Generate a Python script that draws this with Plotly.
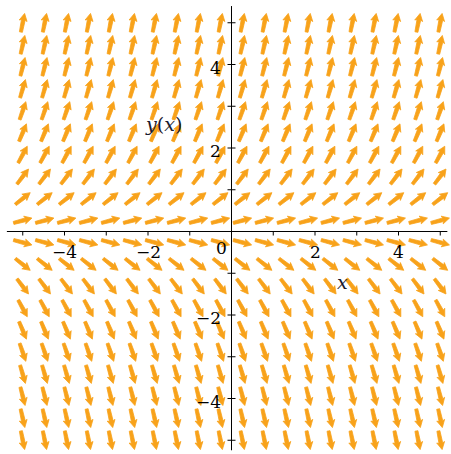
import numpy as np
import plotly.graph_objects as go

# Direction field for dy/dx = y(x) on a 20 x 20 grid
x_grid = np.linspace(-5, 5, 20)
y_grid = np.linspace(-5, 5, 20)


def slope(x, y):
    return y


x_ticks = [-5, -4, -3, -2, -1, 1, 2, 3, 4, 5]
x_labels = {-4: "\u22124", -2: "\u22122", 2: "2", 4: "4"}
y_ticks = [-5, -4, -3, -2, -1, 1, 2, 3, 4, 5]
y_labels = {-4: "\u22124", -2: "\u22122", 2: "2", 4: "4"}

W, H = 451, 454
PX = 41.75          # pixels per unit
OX, OY = 231.5, 231.5  # pixel position of the origin

x_range = [(0 - OX) / PX, (W - OX) / PX]
y_range = [-(H - OY) / PX, OY / PX]

ARROW = "#F8A21A"

# arrow outline in pixel units (along, across), pointing along +x, centered
L = 19.0
shaft_w = 1.9
head_len = 6.5
head_w = 4.0
outline = [
    (-L / 2, -shaft_w * 0.8),
    (L / 2 - head_len, -shaft_w),
    (L / 2 - head_len - 1.0, -head_w),
    (L / 2, 0.0),
    (L / 2 - head_len - 1.0, head_w),
    (L / 2 - head_len, shaft_w),
    (-L / 2, shaft_w * 0.8),
    (-L / 2, -shaft_w * 0.8),
]

ax, ay = [], []
for yv in y_grid:
    for xv in x_grid:
        m = slope(xv, yv)
        dx, dy = 1.0, m
        n = np.hypot(dx, dy)
        ux, uy = dx / n, dy / n          # direction in pixel space (equal scales)
        vx, vy = -uy, ux
        for a, b in outline:
            px = a * ux + b * vx
            py = a * uy + b * vy
            ax.append(xv + px / PX)
            ay.append(yv + py / PX)
        ax.append(None)
        ay.append(None)

fig = go.Figure()
fig.add_trace(go.Scatter(
    x=ax, y=ay, mode="lines", fill="toself",
    fillcolor=ARROW, line=dict(color=ARROW, width=0.8),
    hoverinfo="skip", showlegend=False,
))

# axes through the origin
axis_x = [-5.38, 5.17]
axis_y = [-5.24, 5.40]
tx, ty = [axis_x[0], axis_x[1], None, 0, 0, None], [0, 0, None, axis_y[0], axis_y[1], None]
for t in x_ticks:
    tx += [t, t, None]
    ty += [0, -4 / PX, None]
for t in y_ticks:
    tx += [-4 / PX, 4 / PX, None]
    ty += [t, t, None]
fig.add_trace(go.Scatter(
    x=tx, y=ty, mode="lines", line=dict(color="black", width=1),
    hoverinfo="skip", showlegend=False,
))

FONT = "DejaVu Serif"
ann = []
for t, s in x_labels.items():
    ann.append(dict(x=t, y=-20 / PX, text=s, showarrow=False,
                    xanchor="center", yanchor="middle",
                    font=dict(family=FONT, size=17, color="black")))
ann.append(dict(x=-10 / PX, y=-16 / PX, text="0", showarrow=False,
                xanchor="center", yanchor="middle",
                font=dict(family=FONT, size=17, color="black")))
for t, s in y_labels.items():
    ann.append(dict(x=-9 / PX, y=t - 3 / PX, text=s, showarrow=False,
                    xanchor="right", yanchor="middle",
                    font=dict(family=FONT, size=17, color="black")))
ann.append(dict(x=(163 - OX) / PX, y=(OY - 124) / PX,
                text="<i>y</i>(<i>x</i>)", showarrow=False,
                xanchor="center", yanchor="middle",
                font=dict(family=FONT, size=19, color="#1a1a2e")))
ann.append(dict(x=(342 - OX) / PX, y=(OY - 282) / PX,
                text="<i>x</i>", showarrow=False,
                xanchor="center", yanchor="middle",
                font=dict(family=FONT, size=19, color="#1a1a2e")))

fig.update_layout(
    width=W, height=H,
    margin=dict(l=0, r=0, t=0, b=0),
    paper_bgcolor="white", plot_bgcolor="white",
    font=dict(family=FONT),
    xaxis=dict(range=x_range, visible=False, fixedrange=True),
    yaxis=dict(range=y_range, visible=False, fixedrange=True),
    annotations=ann,
)

fig.write_html("out.html")
